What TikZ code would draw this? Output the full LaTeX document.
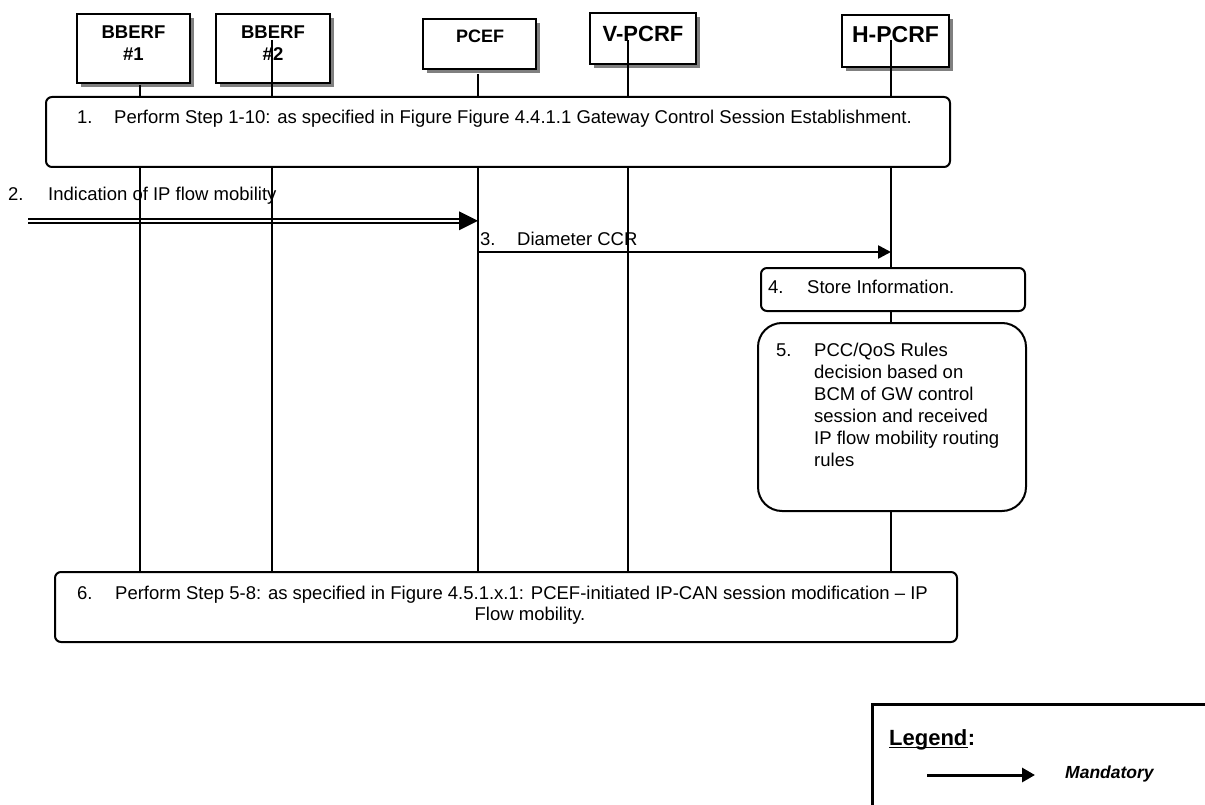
\documentclass[tikz,border=0pt]{standalone}
\usepackage{fontspec}
\setmainfont{Liberation Sans}
\usetikzlibrary{arrows.meta,shadows}
\newcommand\fbody{\fontsize{18.5pt}{22pt}\selectfont}
\newcommand\fhdr[1]{\bfseries\fontsize{#1}{#1}\selectfont}
\begin{document}
\begin{tikzpicture}[x=1pt,y=-1pt,
  hdr/.style={draw, line width=2pt, fill=white, inner sep=0pt,
    drop shadow={shadow xshift=4pt, shadow yshift=-4pt, fill=black!50, opacity=1}},
  stepbox/.style={draw, line width=2pt, fill=white, rounded corners=6pt, inner sep=0pt},
  life/.style={line width=1.7pt},
  txt/.style={inner sep=0pt, anchor=base west, font=\fbody},
  htxt/.style={inner sep=0pt, anchor=base},
  msg/.style={line width=2pt},
]
\useasboundingbox (0,0) rectangle (1205,805);

% header boxes
\node[hdr, minimum width=113pt, minimum height=69pt] (bb1) at (133.5,48.5) {};
\node[hdr, minimum width=114pt, minimum height=69pt] (bb2) at (273,48.5) {};
\node[hdr, minimum width=113pt, minimum height=50pt] (pcef) at (479.5,44) {};
\node[hdr, minimum width=106pt, minimum height=51pt] (vp) at (643,38.5) {};
\node[hdr, minimum width=107pt, minimum height=52pt] (hp) at (895.5,41) {};

\node[htxt, font=\fhdr{18.5pt}] (bb1a) at (133.5,39) {BBERF};
\node[htxt, font=\fhdr{18.5pt}] (bb1b) at (133.5,61) {\#1};
\node[htxt, font=\fhdr{18.5pt}] (bb2a) at (273,39) {BBERF};
\node[htxt, font=\fhdr{18.5pt}] (bb2b) at (273,61) {\#2};
\node[htxt, font=\fhdr{18pt}] (pceft) at (480,43) {PCEF};
\node[htxt, font=\fhdr{22pt}] (vpt) at (643,42) {V-PCRF};
\node[htxt, font=\fhdr{23pt}] (hpt) at (895.5,43) {H-PCRF};

% lifeline coordinates
\coordinate (l1t) at (140,85);  \coordinate (l1b) at (140,572);
\coordinate (l2t) at (272,40);  \coordinate (l2b) at (272,572);
\coordinate (l3t) at (478,74);  \coordinate (l3b) at (478,572);
\coordinate (l4t) at (628,40);  \coordinate (l4b) at (628,572);
\coordinate (l5t) at (891,40);  \coordinate (l5b) at (891,572);

% message 2 (double line)
\coordinate (a2s) at (28,220.8);
\coordinate (a2e) at (478,220.8);
\draw[msg] ([yshift=2.2pt]a2s) -- ([yshift=2.2pt,xshift=-18pt]a2e);
\draw[msg] ([yshift=-2.2pt]a2s) -- ([yshift=-2.2pt,xshift=-18pt]a2e);
\fill (a2e) -- ++(-19,-9.5) -- ++(0,19) -- cycle;

% lifelines
\foreach \i in {1,...,5} { \draw[life] (l\i t) -- (l\i b); }

% step boxes
\node[stepbox, minimum width=904pt, minimum height=70pt] (s1) at (498,132) {};
\node[stepbox, minimum width=264pt, minimum height=43pt] (s4) at (893,289.5) {};
\node[stepbox, rounded corners=24pt, minimum width=268pt, minimum height=188pt] (s5) at (892,417) {};
\node[stepbox, minimum width=902pt, minimum height=70pt] (s6) at (506,607) {};

% message 3
\coordinate (a3s) at (478,252);
\coordinate (a3e) at (891,252);
\draw[line width=2.5pt, -{Triangle[length=13pt,width=13pt]}] (a3s) -- (a3e);

% texts
\node[txt] (s1n) at (77,124) {1.};
\node[txt] (s1t) at (114,124) {Perform Step 1-10: as specified in Figure Figure 4.4.1.1 Gateway Control Session Establishment.};
\node[txt] (a2n) at (8,201) {2.};
\node[txt] (a2t) at (48,201) {Indication of IP flow mobility};
\node[txt] (a3n) at (480,246) {3.};
\node[txt] (a3t) at (517,246) {Diameter CCR};
\node[txt] (s4n) at (768,293) {4.};
\node[txt] (s4t) at (807,293) {Store Information.};
\node[txt] (s5n) at (776,356) {5.};
\foreach \t [count=\k from 0] in {PCC/QoS Rules, decision based on, BCM of GW control, session and received, IP flow mobility routing, rules}
  { \node[txt] (s5t\k) at (814,356+22*\k) {\t}; }
\node[txt] (s6n) at (77,599) {6.};
\node[txt] (s6t) at (115,599) {Perform Step 5-8: as specified in Figure 4.5.1.x.1: PCEF-initiated IP-CAN session modification -- IP};
\node[txt, anchor=base] (s6u) at (530,620) {Flow mobility.};

% legend
\draw[line width=3pt] (872,805) -- (872,704) -- (1205,704);
\node[inner sep=0pt, anchor=base west, font=\fhdr{22pt}] (lg) at (889,745) {Legend};
\node[inner sep=0pt, anchor=base west, font=\fhdr{22pt}] (lgc) at (lg.base east) {:};
\draw[line width=1.8pt] ([yshift=-2.5pt]lg.base west) -- ([yshift=-2.5pt]lg.base east);
\coordinate (lms) at (927,775);
\coordinate (lme) at (1035,775);
\draw[line width=3pt, -{Triangle[length=13pt,width=14pt]}] (lms) -- (lme);
\node[inner sep=0pt, anchor=base west, font=\bfseries\itshape\fontsize{17.5pt}{20pt}\selectfont] (mand) at (1065,778) {Mandatory};
\end{tikzpicture}
\end{document}
